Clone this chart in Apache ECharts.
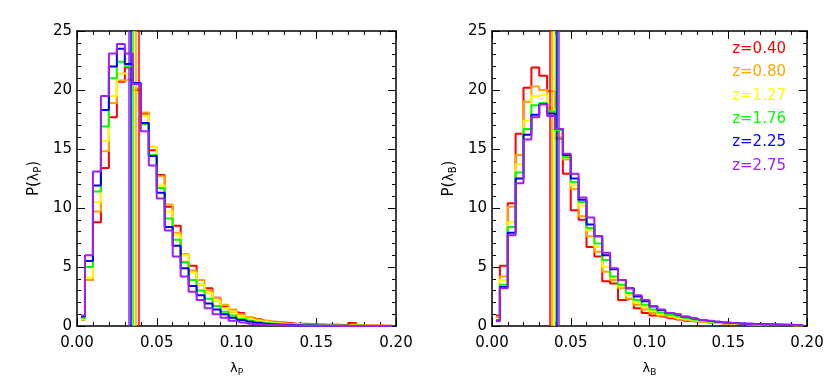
<!DOCTYPE html>
<html>
<head>
<meta charset="utf-8">
<script src="https://cdn.jsdelivr.net/npm/echarts@6/dist/echarts.min.js"></script>
<style>
html,body{margin:0;padding:0;background:#fff;}
#chart{width:830px;height:388px;}
</style>
</head>
<body>
<div id="chart"></div>
<script>
// bin centres (bin width 0.005)
const binCenters = [0.0025,0.0075,0.0125,0.0175,0.0225,0.0275,0.0325,0.0375,0.0425,0.0475,
  0.0525,0.0575,0.0625,0.0675,0.0725,0.0775,0.0825,0.0875,0.0925,0.0975,
  0.1025,0.1075,0.1125,0.1175,0.1225,0.1275,0.1325,0.1375,0.1425,0.1475,
  0.1525,0.1575,0.1625,0.1675,0.1725,0.1775,0.1825,0.1875,0.1925,0.1975];

const zLabels = ['z=0.40','z=0.80','z=1.27','z=1.76','z=2.25','z=2.75'];
const colors = ['#ff0000','#ffa500','#ffff00','#00ff00','#0000ff','#a020f0'];
const xTicks = [0, 0.05, 0.10, 0.15, 0.20];
const yTicks = [0, 5, 10, 15, 20, 25];

// Left panel: P(lambda_P)
const p_z040 = [0.6,3.9,8.8,13.4,17.7,20.7,21.9,20.0,18.0,14.9,12.8,10.1,8.5,5.4,5.1,3.5,3.2,2.4,1.6,1.2,1.1,0.7,0.6,0.45,0.35,0.3,0.25,0.2,0.2,0.15,0.12,0.1,0.1,0.08,0.25,0.06,0.05,0.04,0.03,0.03];
const p_z080 = [0.5,3.9,9.7,14.8,18.9,20.8,20.9,20.1,18.1,15.2,12.7,10.3,7.9,6.1,4.7,3.9,3.0,2.4,1.8,1.4,1.0,0.75,0.55,0.42,0.32,0.26,0.2,0.16,0.13,0.1,0.08,0.07,0.06,0.05,0.12,0.04,0.03,0.03,0.02,0.02];
const p_z127 = [0.6,4.1,10.5,15.7,19.5,21.4,21.3,19.8,17.8,15.2,11.9,9.7,7.7,6.0,4.5,3.5,2.8,2.1,1.5,1.2,0.85,0.6,0.45,0.35,0.26,0.2,0.15,0.12,0.1,0.08,0.06,0.05,0.04,0.03,0.03,0.02,0.02,0.02,0.01,0.01];
const p_z176 = [0.7,5.0,11.4,16.9,21.0,22.4,22.0,20.5,17.1,14.5,11.7,9.1,7.3,5.4,3.9,3.0,2.3,1.7,1.2,0.9,0.6,0.45,0.35,0.25,0.2,0.15,0.12,0.09,0.07,0.05,0.04,0.03,0.03,0.02,0.02,0.02,0.01,0.01,0.01,0.01];
const p_z225 = [0.8,5.5,11.9,18.3,22.0,23.5,22.2,20.6,17.2,14.4,11.3,8.4,6.8,4.9,3.4,2.6,1.9,1.4,1.0,0.7,0.5,0.35,0.25,0.2,0.15,0.1,0.08,0.06,0.05,0.04,0.03,0.02,0.02,0.02,0.01,0.01,0.01,0.01,0.01,0.01];
const p_z275 = [0.9,6.0,13.1,19.5,23.1,23.9,23.1,20.5,16.5,13.6,10.8,8.1,5.9,4.2,2.9,2.2,1.5,1.0,0.7,0.45,0.3,0.2,0.15,0.1,0.08,0.06,0.05,0.04,0.03,0.02,0.02,0.02,0.01,0.01,0.01,0.01,0.01,0.01,0.01,0.01];
const medianP = [0.0385,0.0370,0.0357,0.0349,0.0335,0.0326];

// Right panel: P(lambda_B)
const b_z040 = [0.9,5.1,10.4,16.3,20.2,21.9,21.2,19.9,15.9,12.9,9.8,9.0,6.7,5.9,3.8,3.6,2.2,2.3,1.5,1.1,0.9,0.8,0.65,0.55,0.45,0.4,0.35,0.3,0.25,0.22,0.2,0.18,0.16,0.14,0.12,0.11,0.1,0.09,0.08,0.07];
const b_z080 = [0.7,4.2,10.1,14.5,19.0,20.3,20.0,18.5,16.0,14.1,11.6,9.3,7.6,6.3,4.6,3.9,3.2,2.3,1.8,1.4,1.1,0.9,0.75,0.6,0.5,0.42,0.36,0.3,0.25,0.22,0.19,0.17,0.15,0.13,0.12,0.1,0.09,0.08,0.07,0.06];
const b_z127 = [0.6,3.9,8.8,13.7,17.4,19.5,19.6,18.3,16.3,14.3,11.9,10.2,8.1,6.7,5.0,4.1,3.4,2.6,2.0,1.6,1.3,1.0,0.85,0.7,0.58,0.48,0.4,0.34,0.28,0.24,0.2,0.18,0.15,0.13,0.12,0.1,0.09,0.08,0.07,0.06];
const b_z176 = [0.5,3.5,8.4,13.0,16.7,18.7,18.9,18.2,16.6,14.3,12.2,10.5,8.3,7.0,5.6,4.2,3.5,2.8,2.2,1.8,1.4,1.15,0.95,0.8,0.65,0.55,0.45,0.38,0.32,0.27,0.23,0.2,0.17,0.15,0.13,0.11,0.1,0.09,0.08,0.07];
const b_z225 = [0.45,3.3,7.9,12.5,16.2,17.9,18.8,18.0,16.7,14.5,12.5,10.7,8.6,7.6,6.0,4.8,3.9,3.2,2.5,2.1,1.65,1.35,1.1,0.95,0.78,0.63,0.5,0.43,0.35,0.3,0.25,0.22,0.19,0.16,0.14,0.12,0.11,0.1,0.09,0.08];
const b_z275 = [0.4,3.2,7.7,12.1,15.8,17.7,18.8,17.8,16.7,14.6,12.9,10.9,9.2,7.6,6.2,4.9,3.9,3.2,2.6,2.2,1.7,1.4,1.1,1.0,0.8,0.65,0.5,0.45,0.35,0.3,0.25,0.2,0.2,0.15,0.15,0.12,0.1,0.1,0.08,0.08];
const medianB = [0.0369,0.0382,0.0394,0.0405,0.0413,0.0424];

const seriesP = [p_z040,p_z080,p_z127,p_z176,p_z225,p_z275];
const seriesB = [b_z040,b_z080,b_z127,b_z176,b_z225,b_z275];

const FONT = 'DejaVu Sans';
const chart = echarts.init(document.getElementById('chart'));

function xAxes(grid, sub) {
  const common = {
    gridIndex: grid, type: 'value', min: 0, max: 0.2, interval: 0.05,
    axisLine: {show: true, onZero: false, lineStyle: {color: '#000', width: 1.5}},
    axisTick: {show: true, inside: true, length: 8, lineStyle: {color: '#000', width: 1}},
    minorTick: {show: true, splitNumber: 5, length: 4, lineStyle: {color: '#000', width: 1}},
    splitLine: {show: false}
  };
  return [
    Object.assign({}, common, {
      position: 'bottom',
      axisLabel: {show: true, fontSize: 15, fontFamily: FONT, color: '#000', margin: 10,
        formatter: v => v.toFixed(2)},
      name: '{l|λ}{s|' + sub + '}', nameLocation: 'middle', nameGap: 35,
      nameTextStyle: {rich: {
        l: {fontSize: 13, fontFamily: FONT, color: '#000', lineHeight: 16},
        s: {fontSize: 9, fontFamily: FONT, color: '#000', lineHeight: 9, verticalAlign: 'bottom', padding: [5,0,0,0]}
      }}
    }),
    Object.assign({}, common, {position: 'top', axisLabel: {show: false}})
  ];
}
function yAxes(grid, sub) {
  const common = {
    gridIndex: grid, type: 'value', min: 0, max: 25, interval: 5,
    axisLine: {show: true, onZero: false, lineStyle: {color: '#000', width: 1.5}},
    axisTick: {show: true, inside: true, length: 8, lineStyle: {color: '#000', width: 1}},
    minorTick: {show: true, splitNumber: 5, length: 4, lineStyle: {color: '#000', width: 1}},
    splitLine: {show: false}
  };
  return [
    Object.assign({}, common, {
      position: 'left',
      axisLabel: {show: true, fontSize: 15, fontFamily: FONT, color: '#000', margin: 5},
      name: '{p|P(}{l|λ}{s|' + sub + '}{p|)}', nameLocation: 'middle', nameGap: 34, nameRotate: 90,
      nameTextStyle: {rich: {
        p: {fontSize: 15, fontFamily: FONT, color: '#000', lineHeight: 18},
        l: {fontSize: 14, fontFamily: FONT, color: '#000', lineHeight: 18},
        s: {fontSize: 10, fontFamily: FONT, color: '#000', lineHeight: 10, verticalAlign: 'bottom', padding: [6,0,0,0]}
      }}
    }),
    Object.assign({}, common, {position: 'right', axisLabel: {show: false}})
  ];
}

const series = [];
function addPanel(data, medians, xIdx, yIdx) {
  data.forEach((vals, k) => {
    series.push({
      type: 'line', name: zLabels[k], xAxisIndex: xIdx, yAxisIndex: yIdx,
      data: binCenters.map((c, i) => [c, vals[i]]),
      step: 'middle', symbol: 'none', showSymbol: false,
      lineStyle: {color: colors[k], width: 2}, itemStyle: {color: colors[k]},
      z: 2 + k
    });
  });
  medians.forEach((m, k) => {
    series.push({
      type: 'line', xAxisIndex: xIdx, yAxisIndex: yIdx, data: [], z: 10,
      markLine: {
        silent: true, symbol: 'none', animation: false, precision: 6,
        label: {show: false},
        lineStyle: {color: colors[k], width: 1.5, type: 'solid'},
        data: [{xAxis: m}]
      }
    });
  });
}
addPanel(seriesP, medianP, 0, 0);
addPanel(seriesB, medianB, 2, 2);

const option = {
  animation: false,
  backgroundColor: '#fff',
  grid: [
    {left: 77, top: 31, width: 319, height: 295},
    {left: 492, top: 31, width: 315, height: 295}
  ],
  xAxis: [...xAxes(0, 'P'), ...xAxes(1, 'B')],
  yAxis: [...yAxes(0, 'P'), ...yAxes(1, 'B')],
  series: series,
  graphic: zLabels.map((t, i) => ({
    type: 'text', x: 786, y: 49 + 23.4 * i, silent: true,
    style: {text: t, fill: colors[i], fontSize: 15, fontFamily: FONT, align: 'right', verticalAlign: 'middle'}
  }))
};
chart.setOption(option);
</script>
</body>
</html>
